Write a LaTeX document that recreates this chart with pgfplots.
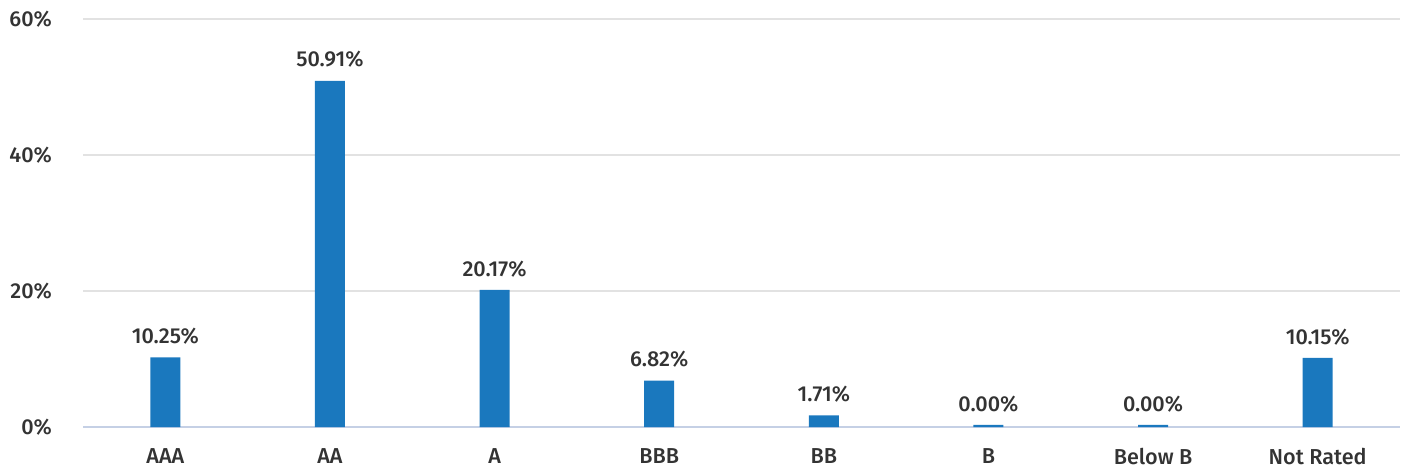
\documentclass[border=0pt]{standalone}
\usepackage{pgfplots}
\pgfplotsset{compat=1.18}
\usepackage{fontspec}
\setmainfont{Fira Sans}[UprightFont=* Medium]
\definecolor{barblue}{HTML}{1A78BE}
\definecolor{txt}{HTML}{333333}
\definecolor{gridc}{HTML}{E2E2E2}
\definecolor{basec}{HTML}{C5D0E5}
\begin{document}
\begin{tikzpicture}
\useasboundingbox (-41.5pt,-20.5pt) rectangle (659pt,213.5pt);
\begin{axis}[
  at={(0,0)}, anchor=south west,
  scale only axis, width=658.5pt, height=204pt,
  xmin=-0.5, xmax=7.5, ymin=0, ymax=60,
  ybar, bar width=15pt,
  xtick={0,1,2,3,4,5,6,7},
  xticklabels={AAA,AA,A,BBB,BB,B,Below B,Not Rated},
  ytick={0,20,40,60},
  yticklabels={0\%,20\%,40\%,60\%},
  axis line style={draw=none},
  major tick length=0pt,
  ymajorgrids, grid style={gridc, line width=0.8pt},
  extra y ticks={0}, extra y tick labels={},
  extra y tick style={grid style={basec, line width=1.2pt}},
  tick label style={font=\fontsize{10.8}{12}\selectfont, text=txt},
  xticklabel style={yshift=-7pt},
  yticklabel style={xshift=-12pt},
  point meta=explicit symbolic,
  nodes near coords,
  every node near coord/.append style={font=\fontsize{10.8}{12}\selectfont, text=txt, yshift=3pt},
  clip=false,
]
\addplot[fill=barblue, draw=none] coordinates {
  (0,10.25) [10.25\%]
  (1,50.91) [50.91\%]
  (2,20.17) [20.17\%]
  (3,6.82) [6.82\%]
  (4,1.71) [1.71\%]
  (5,0.3) [0.00\%]
  (6,0.3) [0.00\%]
  (7,10.15) [10.15\%]
};
\end{axis}
\end{tikzpicture}
\end{document}
